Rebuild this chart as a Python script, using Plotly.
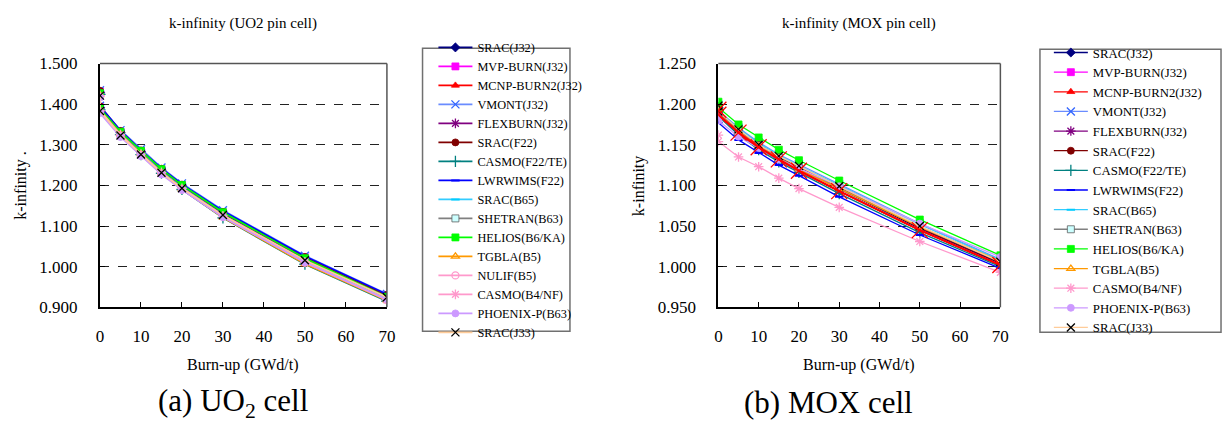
import plotly.graph_objects as go

# Burn-up steps (GWd/t); the first two points are both at 0 (Xe-free and equilibrium Xe)
burnup = [0, 0, 5, 10, 15, 20, 30, 50, 70]

# ---- UO2 pin cell k-infinity ----
uo2_codes = ["SRAC(J32)", "MVP-BURN(J32)", "MCNP-BURN2(J32)", "VMONT(J32)", "FLEXBURN(J32)",
             "SRAC(F22)", "CASMO(F22/TE)", "LWRWIMS(F22)", "SRAC(B65)", "SHETRAN(B63)",
             "HELIOS(B6/KA)", "TGBLA(B5)", "NULIF(B5)", "CASMO(B4/NF)", "PHOENIX-P(B63)", "SRAC(J33)"]
uo2_srac_j32 = [1.429, 1.391, 1.331, 1.283, 1.238, 1.199, 1.131, 1.020, 0.927]
uo2_mvp = [1.431, 1.393, 1.333, 1.285, 1.240, 1.201, 1.134, 1.023, 0.930]
uo2_mcnp = [1.430, 1.392, 1.332, 1.284, 1.239, 1.200, 1.133, 1.022, 0.929]
uo2_vmont = [1.434, 1.396, 1.336, 1.289, 1.244, 1.205, 1.139, 1.027, 0.933]
uo2_flexburn = [1.428, 1.390, 1.330, 1.282, 1.237, 1.198, 1.131, 1.019, 0.926]
uo2_srac_f22 = [1.433, 1.395, 1.334, 1.286, 1.241, 1.202, 1.135, 1.024, 0.931]
uo2_casmo_f22 = [1.424, 1.386, 1.325, 1.276, 1.230, 1.190, 1.120, 1.006, 0.915]
uo2_lwrwims = [1.432, 1.394, 1.335, 1.287, 1.242, 1.203, 1.137, 1.026, 0.932]
uo2_srac_b65 = [1.426, 1.388, 1.328, 1.280, 1.234, 1.195, 1.127, 1.014, 0.921]
uo2_shetran = [1.425, 1.387, 1.327, 1.279, 1.233, 1.194, 1.126, 1.013, 0.920]
uo2_helios = [1.427, 1.389, 1.332, 1.285, 1.240, 1.201, 1.134, 1.021, 0.926]
uo2_tgbla = [1.422, 1.385, 1.326, 1.277, 1.231, 1.191, 1.121, 1.007, 0.917]
uo2_nulif = [1.418, 1.381, 1.322, 1.274, 1.229, 1.190, 1.123, 1.010, 0.918]
uo2_casmo_b4 = [1.421, 1.384, 1.325, 1.277, 1.232, 1.193, 1.125, 1.012, 0.919]
uo2_phoenix = [1.416, 1.378, 1.319, 1.272, 1.227, 1.189, 1.122, 1.011, 0.920]
uo2_srac_j33 = [1.421, 1.383, 1.323, 1.276, 1.231, 1.193, 1.127, 1.016, 0.925]
uo2_values = [uo2_srac_j32, uo2_mvp, uo2_mcnp, uo2_vmont, uo2_flexburn, uo2_srac_f22,
              uo2_casmo_f22, uo2_lwrwims, uo2_srac_b65, uo2_shetran, uo2_helios,
              uo2_tgbla, uo2_nulif, uo2_casmo_b4, uo2_phoenix, uo2_srac_j33]

# ---- MOX pin cell k-infinity ----
mox_codes = ["SRAC(J32)", "MVP-BURN(J32)", "MCNP-BURN2(J32)", "VMONT(J32)", "FLEXBURN(J32)",
             "SRAC(F22)", "CASMO(F22/TE)", "LWRWIMS(F22)", "SRAC(B65)", "SHETRAN(B63)",
             "HELIOS(B6/KA)", "TGBLA(B5)", "CASMO(B4/NF)", "PHOENIX-P(B63)", "SRAC(J33)"]
mox_srac_j32 = [1.196, 1.189, 1.167, 1.149, 1.134, 1.121, 1.096, 1.047, 1.004]
mox_mvp = [1.197, 1.190, 1.168, 1.150, 1.135, 1.122, 1.097, 1.049, 1.006]
mox_mcnp = [1.193, 1.187, 1.165, 1.147, 1.132, 1.118, 1.093, 1.045, 1.002]
mox_vmont = [1.199, 1.192, 1.171, 1.153, 1.138, 1.126, 1.101, 1.053, 1.009]
mox_flexburn = [1.194, 1.187, 1.164, 1.146, 1.131, 1.118, 1.093, 1.045, 1.002]
mox_srac_f22 = [1.197, 1.190, 1.168, 1.150, 1.135, 1.122, 1.097, 1.048, 1.005]
mox_casmo_f22 = [1.192, 1.185, 1.162, 1.144, 1.129, 1.116, 1.090, 1.042, 1.000]
mox_lwrwims = [1.182, 1.177, 1.156, 1.140, 1.125, 1.112, 1.086, 1.039, 0.998]
mox_srac_b65 = [1.198, 1.191, 1.170, 1.152, 1.137, 1.124, 1.100, 1.052, 1.008]
mox_shetran = [1.196, 1.189, 1.167, 1.149, 1.134, 1.121, 1.097, 1.049, 1.006]
mox_helios = [1.203, 1.196, 1.175, 1.159, 1.144, 1.131, 1.106, 1.058, 1.014]
mox_tgbla = [1.195, 1.188, 1.166, 1.148, 1.133, 1.120, 1.096, 1.049, 1.007]
mox_casmo_b4 = [1.162, 1.154, 1.135, 1.123, 1.109, 1.096, 1.073, 1.031, 0.993]
mox_phoenix = [1.186, 1.180, 1.160, 1.146, 1.132, 1.121, 1.099, 1.053, 1.012]
mox_srac_j33 = [1.198, 1.191, 1.169, 1.150, 1.136, 1.124, 1.099, 1.050, 1.006]
mox_values = [mox_srac_j32, mox_mvp, mox_mcnp, mox_vmont, mox_flexburn, mox_srac_f22,
              mox_casmo_f22, mox_lwrwims, mox_srac_b65, mox_shetran, mox_helios,
              mox_tgbla, mox_casmo_b4, mox_phoenix, mox_srac_j33]

# Line / marker style per code
styles = {
    "SRAC(J32)": dict(line="#000080", symbol="diamond", fill="#000080", mline="#000080"),
    "MVP-BURN(J32)": dict(line="#FF00FF", symbol="square", fill="#FF00FF", mline="#FF00FF"),
    "MCNP-BURN2(J32)": dict(line="#FF0000", symbol="triangle-up", fill="#FF0000", mline="#FF0000"),
    "VMONT(J32)": dict(line="#6A8CFF", symbol="x-thin-open", fill="#3366FF", mline="#3366FF"),
    "FLEXBURN(J32)": dict(line="#800080", symbol="asterisk-open", fill="#800080", mline="#800080"),
    "SRAC(F22)": dict(line="#800000", symbol="circle", fill="#800000", mline="#800000"),
    "CASMO(F22/TE)": dict(line="#008080", symbol="cross-thin-open", fill="#008080", mline="#008080"),
    "LWRWIMS(F22)": dict(line="#0000FF", symbol="line-ew-open", fill="#0000FF", mline="#0000FF"),
    "SRAC(B65)": dict(line="#33CCFF", symbol="line-ew-open", fill="#00CCFF", mline="#00CCFF"),
    "SHETRAN(B63)": dict(line="#808080", symbol="square", fill="#CCFFFF", mline="#606060"),
    "HELIOS(B6/KA)": dict(line="#00FF00", symbol="square", fill="#00FF00", mline="#00FF00"),
    "TGBLA(B5)": dict(line="#FF9900", symbol="triangle-up-open", fill="#FF9900", mline="#FF9900"),
    "NULIF(B5)": dict(line="#FF99CC", symbol="circle-open", fill="#FF99CC", mline="#FF99CC"),
    "CASMO(B4/NF)": dict(line="#FF99CC", symbol="asterisk-open", fill="#FF99CC", mline="#FF99CC"),
    "PHOENIX-P(B63)": dict(line="#CC99FF", symbol="circle", fill="#CC99FF", mline="#CC99FF"),
    "SRAC(J33)": dict(line="#FFCC99", symbol="x-thin-open", fill="#000000", mline="#000000"),
}

SERIF = "'Liberation Serif', 'Times New Roman', 'DejaVu Serif', serif"
W, H = 1232, 434
fig = go.Figure()


def add_series(codes, values, xaxis, yaxis, legend, lw):
    for name, ys in zip(codes, values):
        st = styles[name]
        open_sym = st["symbol"].endswith("-open")
        size = 7
        if st["symbol"].startswith("line-ew"):
            size = 6
        if st["symbol"] in ("x-thin-open", "cross-thin-open", "asterisk-open"):
            size = 8
        fig.add_trace(go.Scatter(
            x=burnup, y=ys, name=name, mode="lines+markers",
            xaxis=xaxis, yaxis=yaxis, legend=legend,
            line=dict(color=st["line"], width=lw),
            marker=dict(symbol=st["symbol"], size=size,
                        color=st["mline"] if open_sym else st["fill"],
                        line=dict(color=st["mline"],
                                  width=2 if st["symbol"].startswith("line-ew") else (1.3 if open_sym else 0.8)))))


add_series(uo2_codes, uo2_values, "x", "y", "legend", 1.6)
add_series(mox_codes, mox_values, "x2", "y2", "legend2", 1.3)

# Large red crosses drawn on the MCNP-BURN2 points of the MOX panel
fig.add_trace(go.Scatter(
    x=burnup, y=mox_mcnp, mode="lines+markers", xaxis="x2", yaxis="y2", showlegend=False,
    line=dict(color="#FF0000", width=2.2),
    marker=dict(symbol="x-thin-open", size=16, color="#FF0000", line=dict(color="#FF0000", width=1.3))))

xdom1 = [97 / W, 387 / W]
xdom2 = [722 / W, 1007 / W]
ydom = [1 - 312 / H, 1 - 57 / H]

xaxis_common = dict(range=[0, 70], tickvals=[0, 10, 20, 30, 40, 50, 60, 70], ticks="inside",
                    ticklen=5, tickcolor="black", showline=True, linecolor="black", linewidth=2,
                    showgrid=False, zeroline=False, ticklabelstandoff=12,
                    tickfont=dict(family=SERIF, size=17, color="black"))
yaxis_common = dict(ticks="inside", ticklen=5, tickcolor="black", showline=True,
                    linecolor="black", linewidth=2, showgrid=True, gridcolor="#222222",
                    griddash="dash", gridwidth=1, zeroline=False, ticklabelstandoff=17,
                    tickfont=dict(family=SERIF, size=17, color="black"))

legend_common = dict(bgcolor="rgba(0,0,0,0)", borderwidth=0, itemwidth=34,
                     tracegroupgap=0, xanchor="left", yanchor="top", traceorder="normal")

fig.update_layout(
    width=W, height=H, margin=dict(l=0, r=0, t=0, b=0),
    paper_bgcolor="white", plot_bgcolor="white", showlegend=True,
    font=dict(family=SERIF),
    xaxis=dict(domain=xdom1, anchor="y", **xaxis_common),
    yaxis=dict(domain=ydom, anchor="x", range=[0.9, 1.5],
               tickvals=[0.9, 1.0, 1.1, 1.2, 1.3, 1.4, 1.5],
               ticktext=["0.900", "1.000", "1.100", "1.200", "1.300", "1.400", "1.500"],
               **yaxis_common),
    xaxis2=dict(domain=xdom2, anchor="y2", **xaxis_common),
    yaxis2=dict(domain=ydom, anchor="x2", range=[0.95, 1.25],
                tickvals=[0.95, 1.0, 1.05, 1.1, 1.15, 1.2, 1.25],
                ticktext=["0.950", "1.000", "1.050", "1.100", "1.150", "1.200", "1.250"],
                **yaxis_common),
    legend=dict(x=434 / W, y=1 - 25 / H, font=dict(family=SERIF, size=12.3, color="black"),
                **legend_common),
    legend2=dict(x=1056 / W, y=1 - 30 / H, font=dict(family=SERIF, size=12.8, color="black"),
                 **legend_common),
)

# Legend frames
fig.add_shape(type="rect", xref="paper", yref="paper", x0=423 / W, x1=572 / W,
              y0=1 - 337 / H, y1=1 - 41 / H, line=dict(color="#707070", width=1.5), layer="below")
fig.add_shape(type="rect", xref="paper", yref="paper", x0=1047 / W, x1=1230 / W,
              y0=1 - 338 / H, y1=1 - 42 / H, line=dict(color="#707070", width=1.5), layer="below")

# Gray frame on the top and right of each plot area
for xr, yr in (("x domain", "y domain"), ("x2 domain", "y2 domain")):
    fig.add_shape(type="line", xref=xr, yref=yr, x0=0, x1=1, y0=1, y1=1,
                  line=dict(color="#555555", width=1.5))
    fig.add_shape(type="line", xref=xr, yref=yr, x0=1, x1=1, y0=0, y1=1,
                  line=dict(color="#555555", width=1.5))


def text(x, y, s, size, angle=0):
    fig.add_annotation(x=x / W, y=1 - y / H, xref="paper", yref="paper", text=s,
                       showarrow=False, xanchor="center", yanchor="middle", textangle=angle,
                       font=dict(family=SERIF, size=size, color="black"))


text(242, 15, "k-infinity (UO2 pin cell)", 15)
text(864, 15, "k-infinity (MOX pin cell)", 15)
text(242, 372, "Burn-up (GWd/t)", 16)
text(864, 372, "Burn-up (GWd/t)", 16)
text(17, 185, "k-infinity .", 16, -90)
text(642, 185, "k-infinity", 16, -90)
text(231, 412, "(a) UO<sub>2</sub> cell", 31)
text(833, 412, "(b) MOX cell", 31)

fig.write_html("out.html")
